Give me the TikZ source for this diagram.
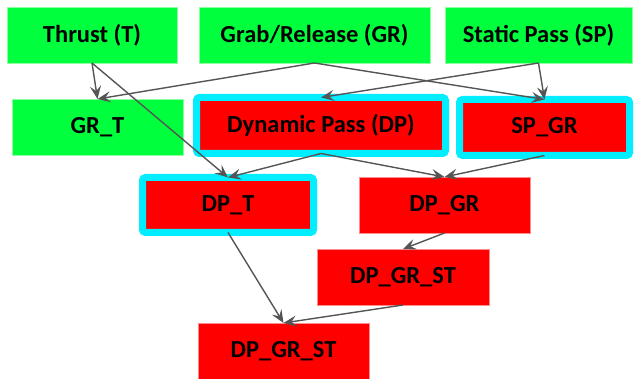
\documentclass[tikz,border=0pt]{standalone}
\usepackage{fontspec}
\setmainfont{Carlito}
\usetikzlibrary{arrows.meta}
\definecolor{gbox}{RGB}{0,255,60}
\definecolor{rbox}{RGB}{255,0,0}
\definecolor{hl}{RGB}{0,238,255}
\definecolor{edge}{RGB}{85,85,85}
\tikzset{
  box/.style={rectangle, minimum height=56pt, inner sep=0pt, outer sep=0pt,
    font=\fontsize{24.5}{28}\selectfont\bfseries, text=black},
  gnode/.style={box, fill=gbox, draw={rgb,255:red,140;green,255;blue,160}, line width=0.6pt},
  rnode/.style={box, fill=rbox, draw={rgb,255:red,255;green,140;blue,140}, line width=0.6pt},
  hnode/.style={box, fill=rbox, draw=hl, line width=7pt, rounded corners=3pt},
  conn/.style={draw=edge, line width=1.4pt, -{Stealth[length=13pt,width=11pt,inset=5pt]}},
}
\begin{document}
\begin{tikzpicture}[x=1pt,y=-1pt]
\useasboundingbox (0,0) rectangle (634,379);
\node[gnode, minimum width=170pt] (T) at (92,35) {Thrust (T)};
\node[gnode, minimum width=231pt] (GR) at (314.5,35) {Grab/Release (GR)};
\node[gnode, minimum width=187pt] (SP) at (538.5,35) {Static Pass (SP)};
\node[gnode, minimum width=171pt] (GRT) at (97.5,127) {GR\_T};
\node[hnode, minimum width=249pt, minimum height=56pt] (DP) at (321,125.5) {Dynamic Pass (DP)};
\node[hnode, minimum width=170pt, minimum height=56pt] (SPGR) at (544.5,127.5) {SP\_GR};
\node[hnode, minimum width=171pt, minimum height=55pt] (DPT) at (228,205) {DP\_T};
\node[rnode, minimum width=171pt] (DPGR) at (444.5,205) {DP\_GR};
\node[rnode, minimum width=172pt] (DPGRST1) at (403,277) {DP\_GR\_ST};
\node[rnode, minimum width=171pt] (DPGRST2) at (283.5,351) {DP\_GR\_ST};
\draw[conn] (T.south) -- (GRT.north);
\draw[conn] (T.south) -- (DPT.north);
\draw[conn] (GR.south) -- (GRT.north);
\draw[conn] (GR.south) -- (SPGR.north);
\draw[conn] (SP.south) -- (DP.north);
\draw[conn] (SP.south) -- (SPGR.north);
\draw[conn] (DP.south) -- (DPT.north);
\draw[conn] (DP.south) -- (DPGR.north);
\draw[conn] (SPGR.south) -- (DPGR.north);
\draw[conn] (DPGR.south) -- (DPGRST1.north);
\draw[conn] (DPT.south) -- (DPGRST2.north);
\draw[conn] (DPGRST1.south) -- (DPGRST2.north);
\end{tikzpicture}
\end{document}
